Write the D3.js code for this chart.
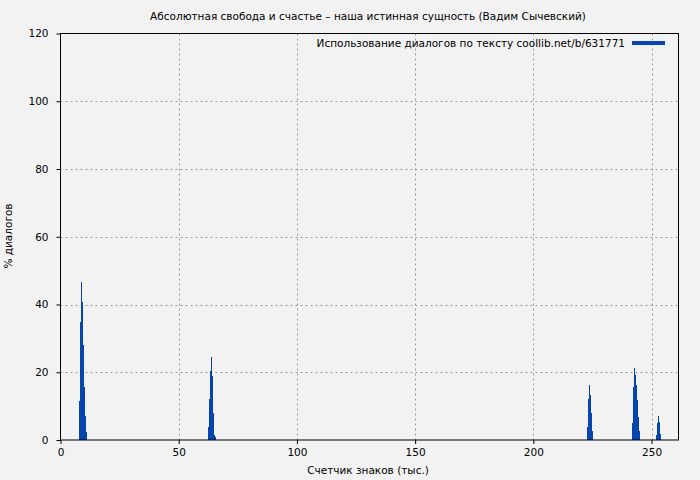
<!DOCTYPE html>
<html>
<head>
<meta charset="utf-8">
<script src="https://cdnjs.cloudflare.com/ajax/libs/d3/7.8.5/d3.min.js"></script>
<style>
  body { margin: 0; background: #f2f2f2; }
  svg text { font-family: "DejaVu Sans", sans-serif; font-size: 10.5px; fill: #000; }
</style>
</head>
<body>
<div id="chart"></div>
<script>
var width = 700;
var height = 480;

// bin start, thousands of characters
var binStarts = [
  7.8, 8.22, 8.64, 9.06, 9.48, 9.9, 10.32, 10.74,
  62.6, 63.02, 63.44, 63.86, 64.28, 64.7, 65.12, 65.54,
  222.9, 223.32, 223.74, 224.16, 224.58, 225.0,
  241.9, 242.32, 242.74, 243.16, 243.58, 244.0, 244.42, 244.84,
  252.0, 252.42, 252.84, 253.26, 253.68
];
// % of dialogues in each bin
var dialogPct = [
  11.5, 34.9, 46.5, 40.6, 28.0, 15.7, 7.2, 2.5,
  3.7, 12.1, 20.4, 24.6, 18.9, 8.1, 1.5, 0.9,
  3.9, 12.1, 16.2, 13.3, 8.1, 2.7,
  5.1, 15.7, 21.2, 19.2, 16.2, 11.8, 6.9, 2.7,
  1.5, 5.1, 7.1, 5.3, 1.8
];
var binWidth = 0.42;
var xTicks = [0, 50, 100, 150, 200, 250];
var yTicks = [0, 20, 40, 60, 80, 100, 120];
var xMax = 261.4;

var titleText = "Абсолютная свобода и счастье – наша истинная сущность (Вадим Сычевский)";
var legendText = "Использование диалогов по тексту coollib.net/b/631771";

var plotLeft = 60.5, plotRight = 678.5, plotTop = 33.5, plotBottom = 440;

var svg = d3.select("#chart").append("svg")
  .attr("width", width)
  .attr("height", height);

svg.append("rect").attr("width", width).attr("height", height).attr("fill", "#f2f2f2");

var x = d3.scaleLinear().domain([0, xMax]).range([plotLeft, plotRight]);
var y = d3.scaleLinear().domain([0, 120]).range([plotBottom, plotTop]);

// grid
var grid = svg.append("g")
  .attr("stroke", "#999")
  .attr("stroke-width", 1)
  .attr("stroke-dasharray", "2,3");
grid.selectAll(".gx").data(xTicks.slice(1)).enter().append("line")
  .attr("x1", function(d){ return Math.round(x(d)) + 0.5; })
  .attr("x2", function(d){ return Math.round(x(d)) + 0.5; })
  .attr("y1", plotTop).attr("y2", plotBottom);
grid.selectAll(".gy").data(yTicks.slice(1, -1)).enter().append("line")
  .attr("x1", plotLeft).attr("x2", plotRight)
  .attr("y1", function(d){ return Math.round(y(d)) + 0.5; })
  .attr("y2", function(d){ return Math.round(y(d)) + 0.5; });

// bars
svg.append("g").selectAll("rect")
  .data(binStarts)
  .enter()
  .append("rect")
  .attr("x", function(d){ return x(d); })
  .attr("width", function(d){ return x(d + binWidth) - x(d); })
  .attr("y", function(d, i){ return y(dialogPct[i]); })
  .attr("height", function(d, i){ return plotBottom - y(dialogPct[i]); })
  .attr("fill", "#0645ad")
  .attr("shape-rendering", "crispEdges");

// axes
var xAxis = svg.append("g")
  .attr("transform", "translate(0," + plotBottom + ")")
  .call(d3.axisBottom(x).tickValues(xTicks).tickSize(4).tickPadding(5));
var yAxis = svg.append("g")
  .attr("transform", "translate(" + plotLeft + ",0)")
  .call(d3.axisLeft(y).tickValues(yTicks).tickSize(4).tickPadding(8));
[xAxis, yAxis].forEach(function(a){
  a.select(".domain").remove();
  a.attr("font-family", null).attr("font-size", null);
  a.selectAll("line").attr("stroke", "#000");
});

// frame
svg.append("rect")
  .attr("x", plotLeft).attr("y", plotTop)
  .attr("width", plotRight - plotLeft).attr("height", plotBottom - plotTop)
  .attr("fill", "none").attr("stroke", "#000");

// legend
svg.append("text")
  .attr("x", 625).attr("y", 46.5)
  .attr("text-anchor", "end")
  .text(legendText);
svg.append("line")
  .attr("x1", 632).attr("x2", 665)
  .attr("y1", 43).attr("y2", 43)
  .attr("stroke", "#0645ad").attr("stroke-width", 4);

// titles
svg.append("text")
  .attr("x", 368).attr("y", 20)
  .attr("text-anchor", "middle")
  .text(titleText);
svg.append("text")
  .attr("x", 368).attr("y", 474)
  .attr("text-anchor", "middle")
  .text("Счетчик знаков (тыс.)");
svg.append("text")
  .attr("transform", "translate(12,236) rotate(-90)")
  .attr("text-anchor", "middle")
  .text("% диалогов");
</script>
</body>
</html>
